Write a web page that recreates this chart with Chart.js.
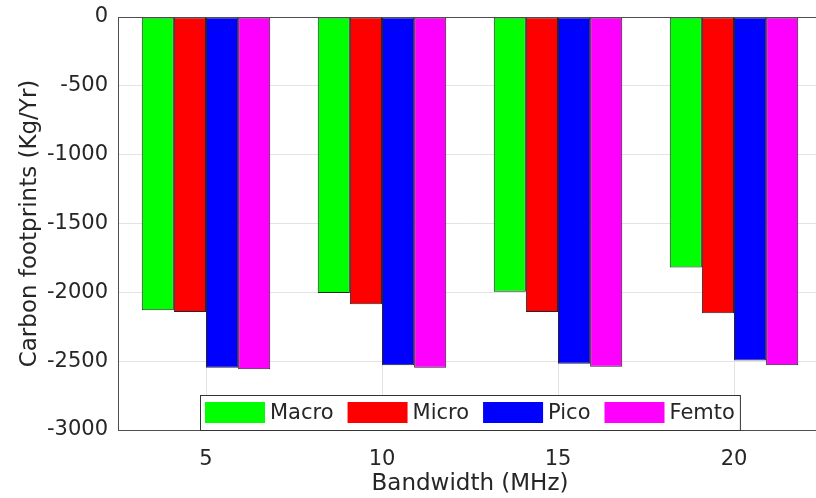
<!DOCTYPE html>
<html>
<head>
<meta charset="utf-8">
<script src="https://cdn.jsdelivr.net/npm/chart.js@4"></script>
<style>
  html, body { margin: 0; padding: 0; background: #fff; overflow: hidden; }
  #wrap { position: relative; width: 830px; height: 498px; }
</style>
</head>
<body>
<div id="wrap"><canvas id="carbonChart"></canvas></div>
<script>
// Datos
const bandwidths = ['5', '10', '15', '20'];
const macroValues = [-2130, -2005, -1995, -1820];
const microValues = [-2143, -2087, -2143, -2152];
const picoValues = [-2547, -2530, -2518, -2496];
const femtoValues = [-2559, -2547, -2540, -2530];
const yTicks = [0, -500, -1000, -1500, -2000, -2500, -3000];

const FONT = 'DejaVu Sans';
const TEXT_COLOR = '#262626';
const AXIS_COLOR = '#4d4d4d';

// Leyenda dentro del área de la gráfica (abajo, centrada)
const insideLegend = {
    id: 'insideLegend',
    afterDraw(chart) {
        const ctx = chart.ctx;
        const area = chart.chartArea;
        const sw = 60, sh = 21, gap = 5, itemGap = 14, padL = 5, padR = 6, boxH = 35;
        ctx.save();
        ctx.font = '21px "' + FONT + '"';
        const items = chart.data.datasets.map(ds => ({
            label: ds.label,
            color: ds.backgroundColor,
            w: ctx.measureText(ds.label).width
        }));
        let total = padL + padR;
        items.forEach((it, i) => { total += sw + gap + it.w + (i < items.length - 1 ? itemGap : 0); });
        const x0 = Math.round((area.left + area.right) / 2 - total / 2);
        const y1 = area.bottom;
        const y0 = y1 - boxH;

        // borde superior de la caja de ejes
        ctx.strokeStyle = AXIS_COLOR;
        ctx.lineWidth = 1;
        ctx.beginPath();
        ctx.moveTo(area.left, area.top + 0.5);
        ctx.lineTo(area.right, area.top + 0.5);
        ctx.stroke();

        ctx.fillStyle = '#fff';
        ctx.fillRect(x0, y0, total, boxH);
        ctx.strokeStyle = '#333';
        ctx.strokeRect(x0 + 0.5, y0 + 0.5, total - 1, boxH);

        let x = x0 + padL;
        const cy = (y0 + y1) / 2;
        items.forEach(it => {
            ctx.fillStyle = it.color;
            ctx.fillRect(x, cy - sh / 2, sw, sh);
            x += sw + gap;
            ctx.fillStyle = TEXT_COLOR;
            ctx.textBaseline = 'middle';
            ctx.textAlign = 'left';
            ctx.fillText(it.label, x, cy + 1);
            x += it.w + itemGap;
        });
        ctx.restore();
    }
};

function makeDataset(label, data, color) {
    return {
        label: label,
        data: data,
        backgroundColor: color,
        borderColor: '#262626',
        borderWidth: 1,
        borderSkipped: false,
        categoryPercentage: 0.73,
        barPercentage: 1.0
    };
}

new Chart(document.getElementById('carbonChart'), {
    type: 'bar',
    data: {
        labels: bandwidths,
        datasets: [
            makeDataset('Macro', macroValues, '#00ff00'),
            makeDataset('Micro', microValues, '#ff0000'),
            makeDataset('Pico', picoValues, '#0000ff'),
            makeDataset('Femto', femtoValues, '#ff00ff')
        ]
    },
    options: {
        responsive: true,
        maintainAspectRatio: false,
        animation: false,
        layout: { padding: { left: 0, top: 17, right: 8, bottom: 0 } },
        plugins: {
            legend: { display: false },
            tooltip: { enabled: false }
        },
        scales: {
            x: {
                grid: { offset: false, color: '#e3e3e3', drawTicks: false },
                border: { color: AXIS_COLOR, width: 1 },
                ticks: { color: TEXT_COLOR, font: { family: FONT, size: 21 }, padding: 17 },
                title: {
                    display: true,
                    text: 'Bandwidth (MHz)',
                    color: TEXT_COLOR,
                    font: { family: FONT, size: 23 },
                    padding: { top: 0, bottom: 0 }
                },
                afterFit(scale) {
                    scale.height = 68;
                    scale.paddingLeft = 0;
                    scale.paddingRight = 0;
                }
            },
            y: {
                min: -3000,
                max: 0,
                afterBuildTicks(scale) { scale.ticks = yTicks.map(v => ({ value: v })); },
                grid: { color: '#e3e3e3', drawTicks: false },
                border: { color: AXIS_COLOR, width: 1 },
                ticks: {
                    color: TEXT_COLOR,
                    font: { family: FONT, size: 21 },
                    padding: 10,
                    callback: v => String(v)
                },
                title: {
                    display: true,
                    text: 'Carbon footprints (Kg/Yr)',
                    color: TEXT_COLOR,
                    font: { family: FONT, size: 23 },
                    padding: { top: 16, bottom: 0 }
                },
                afterFit(scale) {
                    scale.width = 118;
                    scale.paddingTop = 0;
                    scale.paddingBottom = 0;
                }
            }
        }
    },
    plugins: [insideLegend]
});
</script>
</body>
</html>
